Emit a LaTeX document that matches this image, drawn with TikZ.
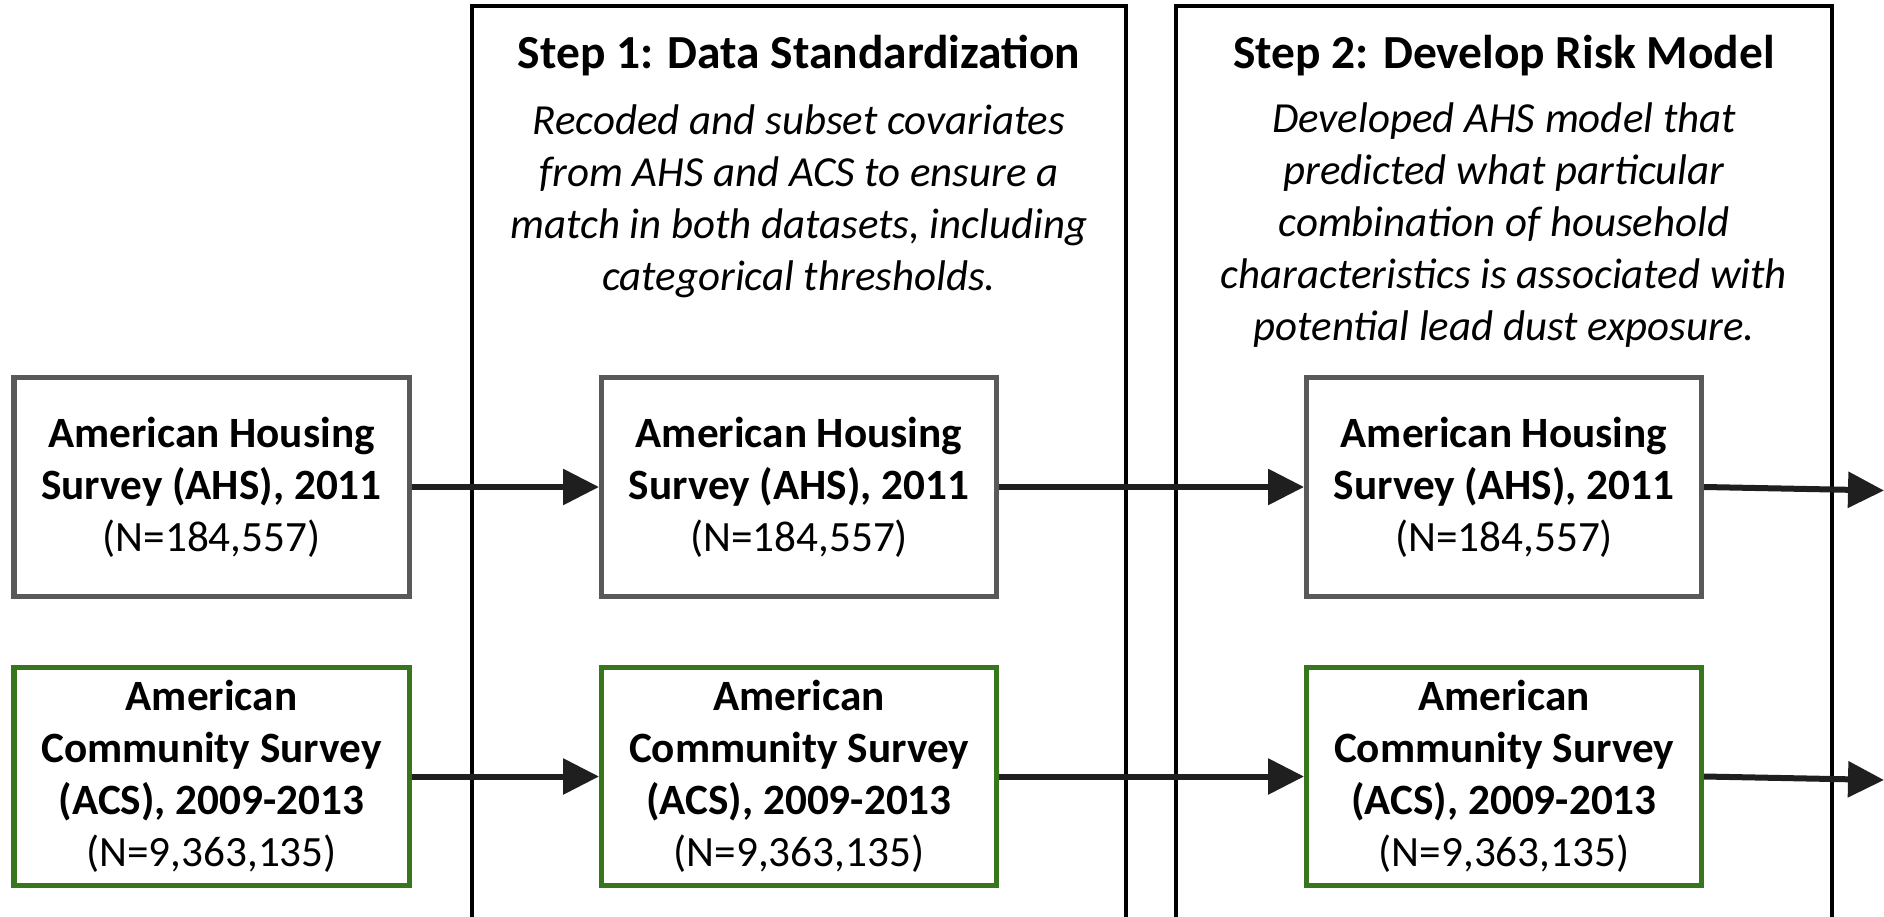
\documentclass[tikz,border=0pt]{standalone}
\usepackage{fontspec}
\setmainfont{Carlito}
\usepackage{xcolor}
\usetikzlibrary{arrows.meta}
\definecolor{ink}{HTML}{000000}
\definecolor{ahsln}{HTML}{595959}
\definecolor{acsln}{HTML}{38761D}
\definecolor{arln}{HTML}{1F1F1F}
\tikzset{
  every node/.style={font=\fontsize{24.6}{29.6}\selectfont},
  box/.style={draw=ahsln,line width=0.1cm,fill=white,align=center,
              minimum width=7.9cm,minimum height=4.37cm,inner sep=0pt},
  ahs/.style={box},
  acs/.style={box,draw=acsln},
  stage/.style={draw=ink,line width=0.07cm},
  hdr/.style={font=\fontsize{27}{29.6}\selectfont\bfseries},
  note/.style={align=center,font=\fontsize{24.4}{29.6}\selectfont\itshape},
  ar/.style={-{Triangle[length=0.72cm,width=0.7cm]},draw=arln,line width=0.12cm},
}
\begin{document}
\begin{tikzpicture}[x=1cm,y=1cm]
\useasboundingbox (0,0) rectangle (37.68,18.32);
\clip (0,0) rectangle (37.68,18.32);

% the two step frames, open at the bottom
\draw[stage] (9.44,-1) -- (9.44,18.2) -- (22.52,18.2) -- (22.52,-1);
\draw[stage] (23.52,-1) -- (23.52,18.2) -- (36.64,18.2) -- (36.64,-1);

\node[hdr] (t1) at (15.98,17.2) {Step 1: Data Standardization};
\node[note] (d1) at (15.98,14.3)
 {Recoded and subset covariates\\from AHS and ACS to ensure a\\match in both datasets, including\\categorical thresholds.};
\node[hdr] (t2) at (30.08,17.2) {Step 2: Develop Risk Model};
\node[note] (d2) at (30.08,13.82)
 {Developed AHS model that\\predicted what particular\\combination of household\\characteristics is associated with\\potential lead dust exposure.};

% survey boxes, one column per stage
\foreach \i/\x in {0/4.23,1/15.98,2/30.08}{
  \node[ahs] (ahs\i) at (\x,8.58) {\textbf{American Housing}\\\textbf{Survey (AHS), 2011}\\(N=184,557)};
  \node[acs] (acs\i) at (\x,2.79) {\textbf{American}\\\textbf{Community Survey}\\\textbf{(ACS), 2009-2013}\\(N=9,363,135)};
}

\coordinate (ahsout) at (37.68,8.51);
\coordinate (acsout) at (37.68,2.72);

\draw[ar] (ahs0) -- (ahs1);
\draw[ar] (ahs1) -- (ahs2);
\draw[ar] (ahs2.east) -- (ahsout);
\draw[ar] (acs0) -- (acs1);
\draw[ar] (acs1) -- (acs2);
\draw[ar] (acs2.east) -- (acsout);
\end{tikzpicture}
\end{document}
